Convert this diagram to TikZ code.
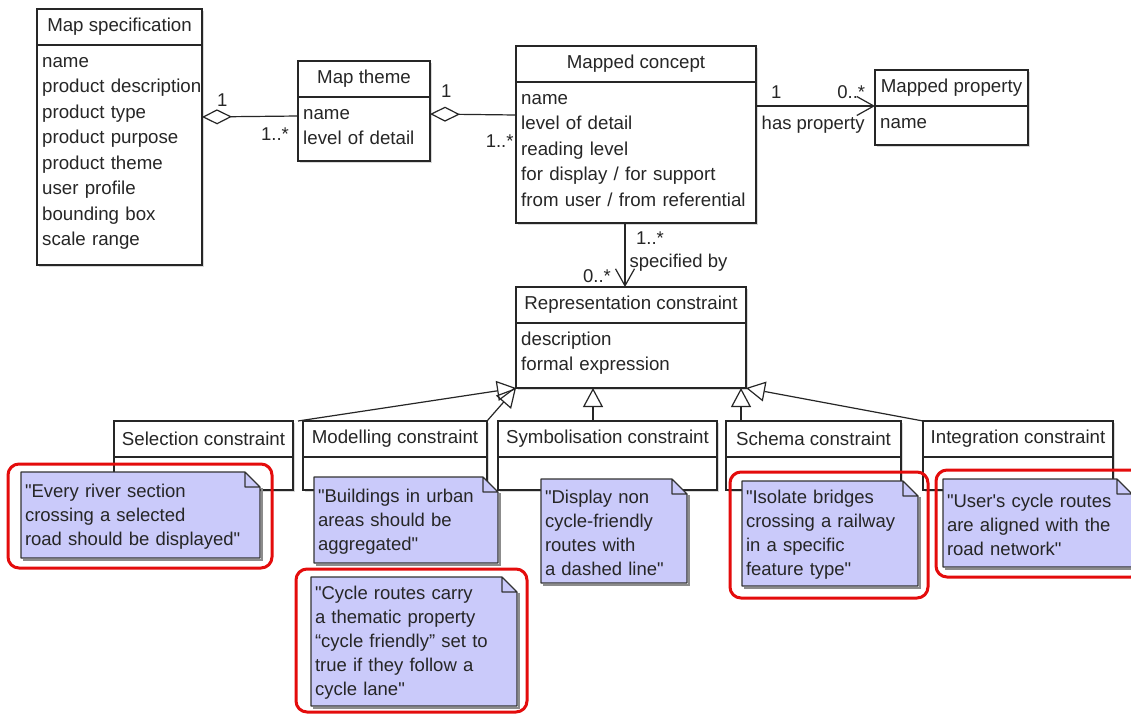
\documentclass[tikz,border=0pt]{standalone}
\usepackage{fontspec}
\setmainfont{Liberation Sans}[Ligatures=TeXOff]
\usetikzlibrary{arrows.meta}
\usetikzlibrary{positioning}
\usetikzlibrary{shadows}
\definecolor{notefill}{RGB}{202,202,250}
\definecolor{markred}{RGB}{228,12,12}
\tikzset{
    classhead/.style={
        rectangle,
        draw=black!85,
        fill=white,
        text=black!85,
        line width=1.2pt,
        outer sep=0pt,
        anchor=north west,
        minimum height=36pt,
        font=\fontsize{18.7}{25.5}\selectfont,
        drop shadow={shadow xshift=2pt, shadow yshift=-2pt, fill=black!30}
    },
    classbody/.style={
        classhead
    },
    attrs/.style={
        anchor=north west,
        align=left,
        text width=#1,
        text=black!85,
        inner xsep=5pt,
        inner ysep=4pt,
        font=\fontsize{18.7}{25.5}\selectfont,
        execute at begin node=\strut
    },
    note/.style={
        anchor=north west,
        align=left,
        text=black!85,
        inner xsep=4pt,
        inner ysep=4pt,
        outer sep=0pt,
        font=\fontsize{18.5}{24}\selectfont,
        execute at begin node=\strut,
        path picture={
            \fill[notefill] (path picture bounding box.north west)
                -- ([xshift=-15pt]path picture bounding box.north east)
                -- ([yshift=-15pt]path picture bounding box.north east)
                -- (path picture bounding box.south east)
                -- (path picture bounding box.south west) -- cycle;
        }
    },
    noteline/.style={draw=black!80, line width=1.2pt, line join=round},
    noteshadow/.style={draw=black!45, line width=2pt},
    mult/.style={text=black!85, inner sep=1pt, font=\fontsize{18.5}{22}\selectfont},
    aggr/.style={-{Diamond[open,length=30pt,width=15pt]}, line width=1.2pt, draw=black!85},
    assoc/.style={-{Straight Barb[length=17pt,width=19pt]}, line width=1.2pt, draw=black!85},
    gen/.style={-{Triangle[open,length=19pt,width=20pt]}, line width=1.2pt, draw=black!85},
    highlight/.style={draw=markred, line width=3pt, rounded corners=11pt}
}

\begin{document}
\begin{tikzpicture}[x=1pt, y=-1pt]
    \path [use as bounding box, fill=white] (0,0) rectangle (1131,713);

    % Map specification
    \node (mapspechead) [classhead, minimum width=165pt] at (37,9) {Map specification};
    \node (mapspecbody) [classbody, minimum width=165pt, minimum height=220pt, below=0pt of mapspechead] {};
    \node (mapspecattrs) [attrs=160pt] at (mapspecbody.north west) {name\\product description\\product type\\product purpose\\product theme\\user profile\\bounding box\\scale range};

    % Map theme
    \node (mapthemehead) [classhead, minimum width=132pt] at (298,61) {Map theme};
    \node (mapthemebody) [classbody, minimum width=132pt, minimum height=64pt, below=0pt of mapthemehead] {};
    \node (mapthemeattrs) [attrs=125pt] at (mapthemebody.north west) {name\\level of detail};

    % Mapped concept
    \node (concepthead) [classhead, minimum width=240pt] at (516,46) {Mapped concept};
    \node (conceptbody) [classbody, minimum width=240pt, minimum height=141pt, below=0pt of concepthead] {};
    \node (conceptattrs) [attrs=232pt] at (conceptbody.north west) {name\\level of detail\\reading level\\for display / for support\\from user / from referential};

    % Mapped property
    \node (propertyhead) [classhead, minimum width=153pt] at (875,70) {Mapped property};
    \node (propertybody) [classbody, minimum width=153pt, minimum height=39pt, below=0pt of propertyhead] {};
    \node (propertyattrs) [attrs=145pt] at (propertybody.north west) {name};

    % Representation constraint
    \node (reprhead) [classhead, minimum width=230pt] at (516,287) {Representation constraint};
    \node (reprbody) [classbody, minimum width=230pt, minimum height=65pt, below=0pt of reprhead] {};
    \node (reprattrs) [attrs=222pt] at (reprbody.north west) {description\\formal expression};

    % Constraint kinds
    \node (selectionhead) [classhead, minimum width=179pt] at (114,421) {Selection constraint};
    \node (selectionbody) [classbody, minimum width=179pt, minimum height=33pt, below=0pt of selectionhead] {};
    \node (modellinghead) [classhead, minimum width=184pt] at (303,421) {Modelling constraint};
    \node (modellingbody) [classbody, minimum width=184pt, minimum height=33pt, below=0pt of modellinghead] {};
    \node (symbhead) [classhead, minimum width=219pt] at (498,421) {Symbolisation constraint};
    \node (symbbody) [classbody, minimum width=219pt, minimum height=33pt, below=0pt of symbhead] {};
    \node (schemahead) [classhead, minimum width=175pt] at (726,421) {Schema constraint};
    \node (schemabody) [classbody, minimum width=175pt, minimum height=33pt, below=0pt of schemahead] {};
    \node (integrationhead) [classhead, minimum width=190pt] at (923,421) {Integration constraint};
    \node (integrationbody) [classbody, minimum width=190pt, minimum height=33pt, below=0pt of integrationhead] {};

    % Aggregations
    \draw [aggr] ([yshift=13pt]mapthemebody.west) -- node [mult, pos=0.24, yshift=-18pt] {1..*} node [mult, pos=0.79, yshift=17pt] {1} ([yshift=38pt]mapspecbody.east);
    \draw [aggr] ([yshift=37.5pt]conceptbody.west) -- node [mult, pos=0.19, yshift=-26pt] {1..*} node [mult, pos=0.81, yshift=23pt] {1} ([yshift=15pt]mapthemebody.east);

    % Associations
    \draw [assoc] (conceptbody.east |- propertyhead.south west) -- node [mult, pos=0.17, yshift=14pt] {1} node [mult, pos=0.8, yshift=14pt] {0..*} node [mult, pos=0.48, yshift=-19pt] {has property} (propertyhead.south west);
    \draw [assoc] ([xshift=-11pt]conceptbody.south) -- node [mult, pos=0.23, xshift=25pt] {1..*} node [mult, pos=0.625, xshift=53.5pt] {specified by} node [mult, pos=0.83, xshift=-28pt] {0..*} ([xshift=-11pt]conceptbody.south |- reprhead.north);

    % Generalisations
    \draw [gen] ([xshift=5pt]selectionhead.north east) -- (reprbody.south west);
    \draw [gen] (modellinghead.north east) -- (reprbody.south west);
    \draw [gen] ([xshift=-14.5pt]symbhead.north) -- ([xshift=-14.5pt]symbhead.north |- reprbody.south);
    \draw [gen] ([xshift=15pt]schemahead.north west) -- ([xshift=15pt]schemahead.north west |- reprbody.south);
    \draw [gen] (integrationhead.north west) -- (reprbody.south east);

    % Notes
    \node (selnote) [note, text width=231pt, minimum height=86pt] at (21,472) {"Every river section\\crossing a selected\\road should be displayed"};
    \node (modnote) [note, text width=176pt, minimum height=86pt] at (314,477) {"Buildings in urban\\areas should be\\aggregated"};
    \node (cyclenote) [note, text width=198pt, minimum height=129pt] at (311,577) {"Cycle routes carry\\a thematic property\\“cycle friendly” set to\\true if they follow a\\cycle lane"};
    \node (symbnote) [note, text width=138pt, minimum height=104pt] at (541,479) {"Display non\\cycle-friendly\\routes with\\a dashed line"};
    \node (schemanote) [note, text width=168pt, minimum height=105pt] at (742,481) {"Isolate bridges\\crossing a railway\\in a specific\\feature type"};
    \node (intnote) [note, text width=181pt, minimum height=88pt] at (943,479) {"User's cycle routes\\are aligned with the\\road network"};

    \foreach \n in {selnote,modnote,cyclenote,symbnote,schemanote,intnote} {
        \draw [noteshadow] ([xshift=2pt,yshift=-16pt]\n.north east) |- ([xshift=2pt,yshift=-2pt]\n.south west);
        \draw [noteline] (\n.north west) -- ([xshift=-15pt]\n.north east) -- ([yshift=-15pt]\n.north east) -- (\n.south east) -- (\n.south west) -- cycle
            ([xshift=-15pt]\n.north east) |- ([yshift=-15pt]\n.north east);
    }

    % Highlights
    \draw [highlight] ([xshift=-13pt,yshift=8pt]selnote.north west) rectangle ([xshift=12pt,yshift=-10pt]selnote.south east);
    \draw [highlight] ([xshift=-15pt,yshift=8pt]cyclenote.north west) rectangle ([xshift=10pt,yshift=-6pt]cyclenote.south east);
    \draw [highlight] ([xshift=-12pt,yshift=9pt]schemanote.north west) rectangle ([xshift=10pt,yshift=-12pt]schemanote.south east);
    \draw [highlight] ([xshift=-7pt,yshift=9pt]intnote.north west) rectangle ([xshift=10pt,yshift=-10pt]intnote.south east);
\end{tikzpicture}
\end{document}
